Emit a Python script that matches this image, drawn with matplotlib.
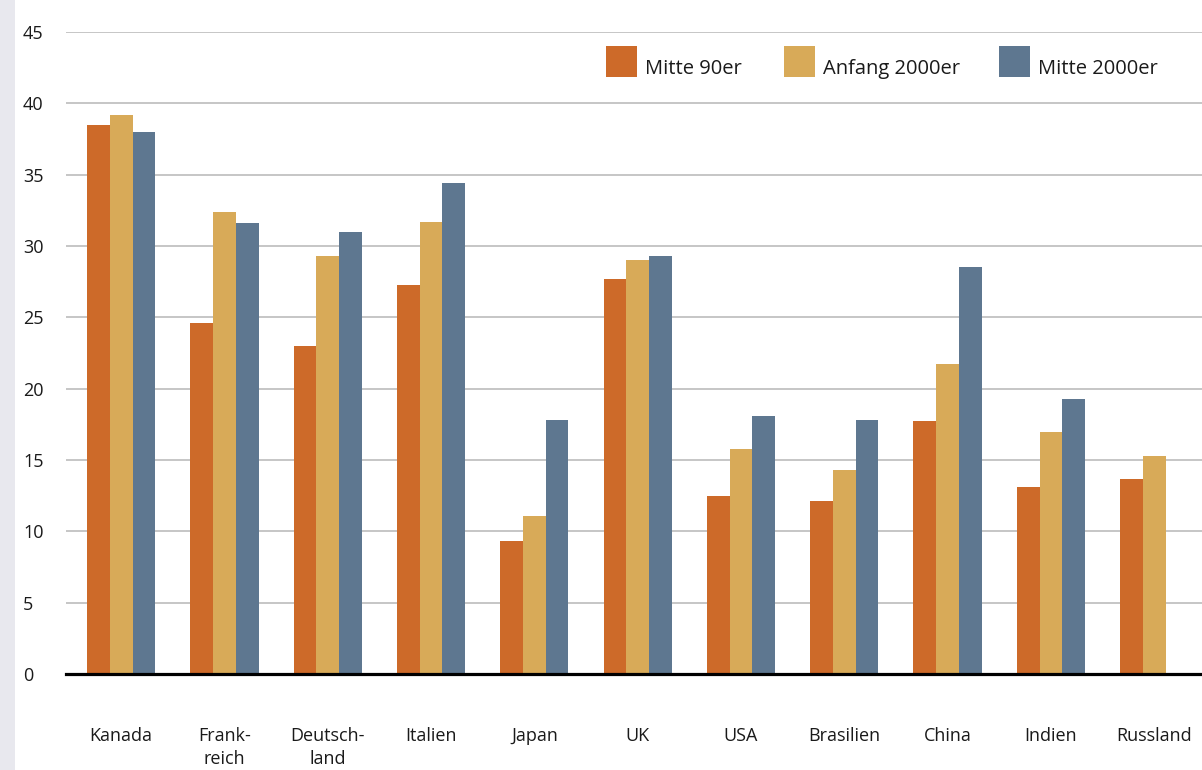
import matplotlib
matplotlib.use("Agg")
import matplotlib.pyplot as plt
from matplotlib.patches import Rectangle
import numpy as np

# ---- data ----
categories = ["Kanada", "Frank-\nreich", "Deutsch-\nland", "Italien", "Japan", "UK",
              "USA", "Brasilien", "China", "Indien", "Russland"]
series_names = ["Mitte 90er", "Anfang 2000er", "Mitte 2000er"]
mitte_90er = [38.5, 24.6, 23.0, 27.3, 9.35, 27.7, 12.5, 12.1, 17.7, 13.1, 13.7]
anfang_2000er = [39.2, 32.4, 29.3, 31.7, 11.1, 29.05, 15.8, 14.3, 21.7, 16.95, 15.3]
mitte_2000er = [38.0, 31.6, 31.0, 34.4, 17.8, 29.3, 18.1, 17.8, 28.55, 19.3, 0.0]
y_ticks = [0, 5, 10, 15, 20, 25, 30, 35, 40, 45]

colors = ["#cd6a29", "#d8aa58", "#5e7790"]
series = [mitte_90er, anfang_2000er, mitte_2000er]

W, H = 1202, 770
fig = plt.figure(figsize=(W / 100, H / 100), dpi=100)
fig.patch.set_facecolor("white")

def fx(px):
    return px / W

def fy(py):
    return 1 - py / H

# left light strip
fig.patches.append(Rectangle((0, 0), fx(15), 1, transform=fig.transFigure,
                             facecolor="#e8e8ee", edgecolor="none", zorder=0))

ax = fig.add_axes([fx(66), fy(674), fx(1202) - fx(66), fy(32) - fy(674)])
ax.set_facecolor("none")

x = np.arange(len(categories))
bw = 0.22
for i, (vals, c) in enumerate(zip(series, colors)):
    ax.bar(x + (i - 1) * bw, vals, width=bw, color=c, edgecolor="none",
           linewidth=0, zorder=3)

ax.set_xlim(-0.534, 10.463)
ax.set_ylim(0, 45)

ax.set_yticks(y_ticks)
ax.set_yticklabels([str(t) for t in y_ticks])
ax.yaxis.grid(True, color="#c6c6c6", linewidth=1.4, zorder=1)
ax.set_axisbelow(True)
ax.axhline(0, color="black", linewidth=2.3, zorder=5, clip_on=False)

ax.tick_params(axis="y", length=0, pad=31, labelsize=13, labelcolor="#1a1a1a")
for lab in ax.get_yticklabels():
    lab.set_horizontalalignment("left")
    lab.set_fontfamily("Open Sans")

ax.set_xticks(x)
ax.set_xticklabels(categories, fontsize=13, color="#1a1a1a", family="Open Sans",
                   linespacing=1.35, va="top")
ax.tick_params(axis="x", length=0, pad=38)

for s in ax.spines.values():
    s.set_visible(False)

# legend (manual)
patch_x = [606, 784, 999]
for name, c, px in zip(series_names, colors, patch_x):
    fig.patches.append(Rectangle((fx(px), fy(77)), fx(31), fy(46) - fy(77),
                                 transform=fig.transFigure, facecolor=c,
                                 edgecolor="none", zorder=5))
    fig.text(fx(px + 39), fy(74), name, fontsize=14.5, family="Open Sans",
             color="#1a1a1a", va="baseline", ha="left")

fig.savefig("out.png", dpi=100)
